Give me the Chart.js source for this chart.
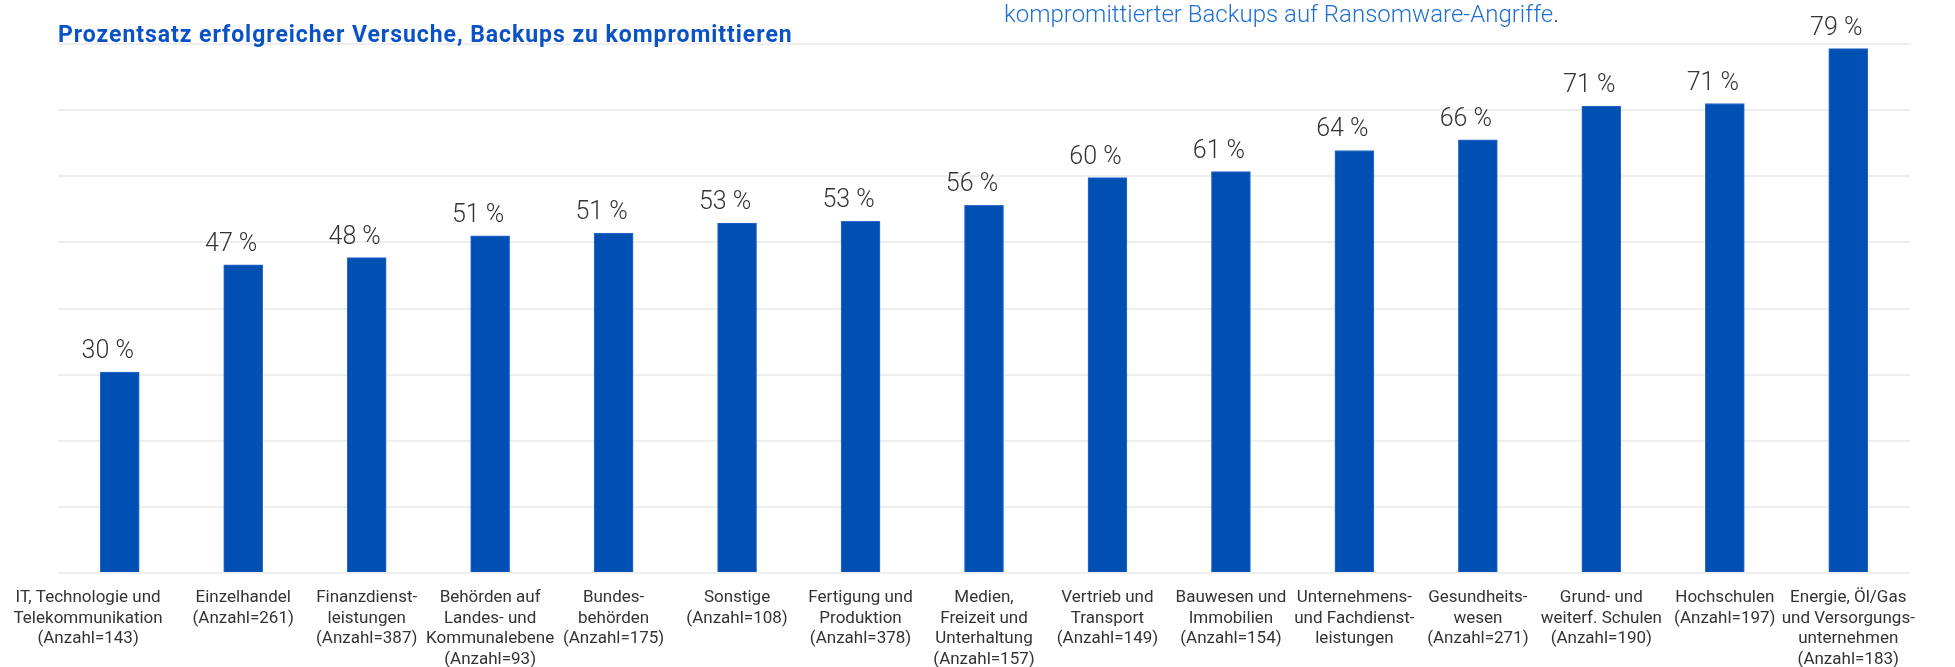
<!DOCTYPE html>
<html lang="de">
<head>
<meta charset="utf-8">
<title>Backups kompromittieren</title>
<script src="https://cdn.jsdelivr.net/npm/chart.js@4.4.1/dist/chart.umd.min.js"></script>
<style>
  body { margin: 0; background: #fff; font-family: Roboto, sans-serif; }
  #wrap { position: relative; width: 1955px; height: 667px; }
  #titel {
    position: absolute; left: 58px; top: 23px; line-height: 23px;
    font-size: 23px; font-weight: 700; letter-spacing: 0.95px;
    color: #0a52c6; white-space: nowrap;
  }
  #untertitel {
    position: absolute; left: 1004px; top: 2px; line-height: 24px;
    font-size: 24px; font-weight: 300; color: #1f6fd4; white-space: nowrap;
  }
  #untertitel span { color: #333; }
</style>
</head>
<body>
<div id="wrap">
  <canvas id="chart-backups"></canvas>
  <div id="titel">Prozentsatz erfolgreicher Versuche, Backups zu kompromittieren</div>
  <div id="untertitel">kompromittierter Backups auf Ransomware-Angriffe<span>.</span></div>
</div>
<script>
const BRANCHEN = [
  ["IT, Technologie und", "Telekommunikation"],
  ["Einzelhandel"],
  ["Finanzdienst-", "leistungen"],
  ["Behörden auf", "Landes- und", "Kommunalebene"],
  ["Bundes-", "behörden"],
  ["Sonstige"],
  ["Fertigung und", "Produktion"],
  ["Medien,", "Freizeit und", "Unterhaltung"],
  ["Vertrieb und", "Transport"],
  ["Bauwesen und", "Immobilien"],
  ["Unternehmens-", "und Fachdienst-", "leistungen"],
  ["Gesundheits-", "wesen"],
  ["Grund- und", "weiterf. Schulen"],
  ["Hochschulen"],
  ["Energie, Öl/Gas", "und Versorgungs-", "unternehmen"],
];

// Stichprobengröße je Branche (bei Unternehmensdienstleistungen nicht angegeben)
const ANZAHL = [143, 261, 387, 93, 175, 108, 378, 157, 149, 154, null, 271, 190, 197, 183];

// Anteil erfolgreicher Versuche in %
const ANTEILE = [30.4, 46.6, 47.7, 51.0, 51.4, 52.9, 53.2, 55.6, 59.8, 60.7, 63.9, 65.5, 70.6, 71.0, 79.3];

const Y_TICKS = [0, 10, 20, 30, 40, 50, 60, 70, 80];

const COR_BARRA = "#0050b4";
const COR_TEXTO = "#333";
const COR_GRID = "#eeeeee";

function montarLabels() {
  return BRANCHEN.map((linhas, i) => {
    const l = linhas.slice();
    if (ANZAHL[i] != null) l.push(`(Anzahl=${ANZAHL[i]})`);
    return l;
  });
}

const wertLabels = {
  id: "wertLabels",
  afterDatasetsDraw(chart) {
    const ctx = chart.ctx;
    const meta = chart.getDatasetMeta(0);
    ctx.save();
    ctx.font = "300 25px Roboto";
    ctx.fillStyle = COR_TEXTO;
    ctx.textAlign = "center";
    ctx.textBaseline = "alphabetic";
    meta.data.forEach((bar, i) => {
      ctx.fillText(Math.round(ANTEILE[i]) + " %", bar.x - 12, bar.y - 14);
    });
    ctx.restore();
  },
};

new Chart(document.getElementById("chart-backups"), {
  type: "bar",
  data: {
    labels: montarLabels(),
    datasets: [{
      data: ANTEILE,
      backgroundColor: COR_BARRA,
      borderColor: "#2d6acb",
      borderWidth: 1,
      borderSkipped: "bottom",
      barThickness: 39,
    }],
  },
  options: {
    responsive: true,
    maintainAspectRatio: false,
    animation: false,
    layout: { padding: { top: 44, left: 58, right: 45, bottom: 0 } },
    plugins: {
      legend: { display: false },
      tooltip: { enabled: false },
    },
    scales: {
      x: {
        grid: { display: false, drawTicks: false },
        border: { display: false },
        ticks: {
          color: COR_TEXTO,
          font: { family: "Roboto", size: 17, lineHeight: 1.2 },
          padding: 15,
          maxRotation: 0,
          minRotation: 0,
          autoSkip: false,
        },
        // erste Beschriftung etwas nach links rücken, damit sie nicht mit der zweiten kollidiert
        afterTickToLabelConversion(scale) {
          const t = scale.ticks[0];
          if (t && Array.isArray(t.label)) {
            t.label = t.label.map((linha) => linha + "\u00A0".repeat(15));
          }
        },
        afterFit(scale) {
          scale.height = 94;
          scale.paddingLeft = 0;
          scale.paddingRight = 0;
        },
      },
      y: {
        min: Y_TICKS[0],
        max: Y_TICKS[Y_TICKS.length - 1],
        afterBuildTicks(scale) { scale.ticks = Y_TICKS.map((v) => ({ value: v })); },
        grid: { color: COR_GRID, lineWidth: 2, drawTicks: false },
        border: { display: false },
        ticks: { display: false },
      },
    },
  },
  plugins: [wertLabels],
});
</script>
</body>
</html>
